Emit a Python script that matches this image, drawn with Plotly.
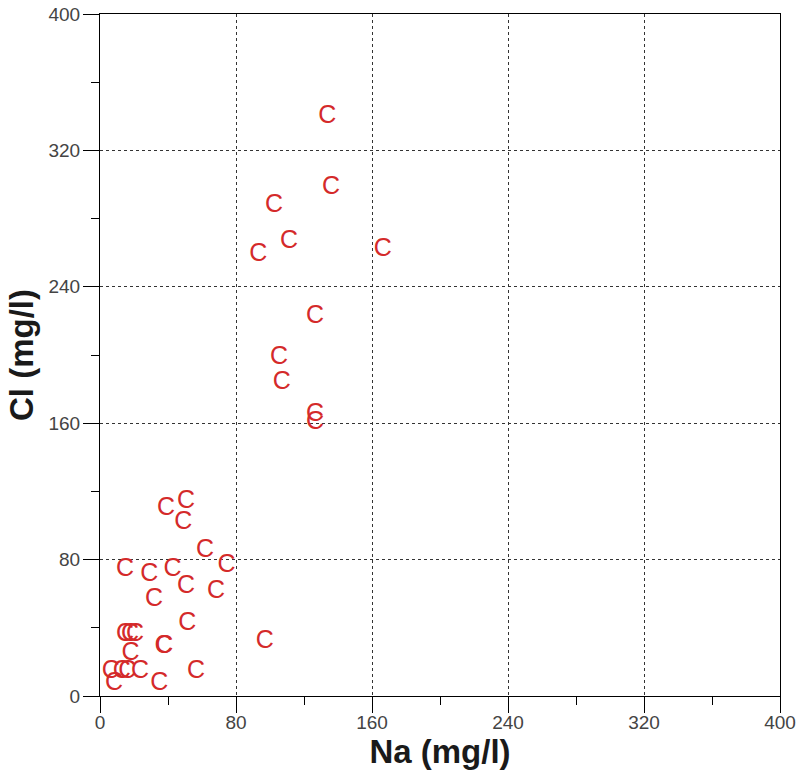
import plotly.graph_objects as go

na = [133.7, 135.9, 102.4, 111.2, 93.1, 166.3, 126.5, 105.3, 106.9, 126.5, 126.5,
      50.6, 38.8, 49.0, 61.8, 74.5, 14.7, 29.0, 42.7, 50.6, 68.2, 31.8, 51.4, 97.0,
      14.7, 17.6, 20.6, 37.3, 37.8, 18.0, 6.3, 12.8, 16.1, 23.5, 56.5, 8.2, 34.9]
cl = [339.8, 298.1, 287.4, 266.3, 259.0, 262.0, 222.5, 198.4, 183.8, 164.8, 160.0,
      113.8, 109.7, 101.8, 85.2, 76.2, 74.3, 71.0, 74.3, 64.1, 61.2, 56.7, 42.6, 31.8,
      35.8, 35.8, 35.8, 28.9, 28.9, 25.0, 14.3, 14.3, 14.3, 14.3, 14.3, 7.4, 7.4]
labels = ["C"] * len(na)

tick_vals = [0, 80, 160, 240, 320, 400]
tick_text = ["0", "80", "160", "240", "320", "400"]

FONT = "Arial, Liberation Sans, sans-serif"

fig = go.Figure()
fig.add_trace(go.Scatter(
    x=na, y=cl, mode="text", text=labels, textposition="middle center",
    textfont=dict(family=FONT, size=25, color="#d42a2a"),
    hoverinfo="skip", showlegend=False,
))

axis_common = dict(
    range=[0, 400], tickvals=tick_vals, ticktext=tick_text,
    showline=True, linecolor="black", linewidth=1, mirror=True,
    ticks="outside", ticklen=16, tickwidth=1, tickcolor="black",
    showgrid=True, gridcolor="#333333", gridwidth=1, griddash="3px,3px",
    zeroline=False,
    tickfont=dict(family=FONT, size=19, color="#444444"),
    minor=dict(dtick=40, tick0=0, ticks="outside", ticklen=8, tickcolor="black", showgrid=False),
)

fig.update_xaxes(**axis_common, ticklabelstandoff=-7,
                 title=dict(text="Na (mg/l)", standoff=6,
                            font=dict(family=FONT, size=33, color="#1a1a1a", weight="bold")))
fig.update_yaxes(**axis_common, ticklabelstandoff=-1,
                 title=dict(text="Cl (mg/l)", standoff=4,
                            font=dict(family=FONT, size=33, color="#1a1a1a", weight="bold")))

fig.update_layout(
    width=802, height=782,
    margin=dict(l=100, r=22, t=14, b=86, autoexpand=False),
    plot_bgcolor="white", paper_bgcolor="white",
)

fig.write_html("out.html")
